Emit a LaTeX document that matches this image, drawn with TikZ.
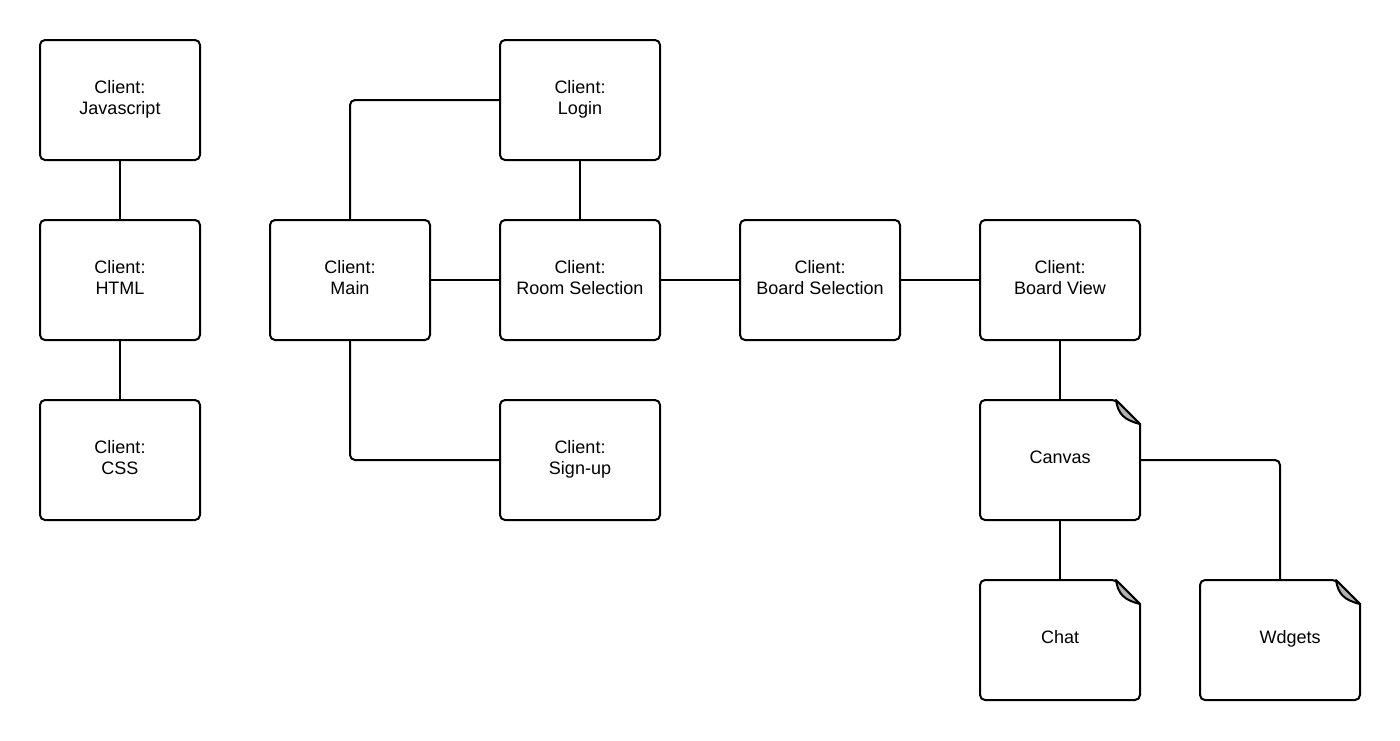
\documentclass[tikz,border=0pt]{standalone}
\usepackage{fontspec}
\setmainfont{Liberation Sans}
\usetikzlibrary{calc}
\newcommand{\twoline}[2]{\raisebox{0.8pt}{\begin{tabular}{@{}c@{}}#1\\#2\end{tabular}}}
\begin{document}
\begin{tikzpicture}[x=0.5pt,y=-0.5pt,
  box/.style={draw=black,line width=1pt,rounded corners=2.5pt,fill=white,minimum width=80pt,minimum height=60pt,inner sep=0pt,align=center,font=\fontsize{9}{10.5}\selectfont},
  link/.style={draw=black,line width=1pt,rounded corners=2.5pt},
  notebody/.style={draw=black,line width=1pt,fill=white},
  notefold/.style={draw=black,line width=1pt,fill=black!30,line join=round},
  notetxt/.style={inner sep=0pt,anchor=base,font=\fontsize{9}{10.5}\selectfont}]
\useasboundingbox (0,0) rectangle (1400,740);
\node[box] (js) at (120,100) {\twoline{Client:}{Javascript}};
\node[box] (html) at (120,280) {\twoline{Client:}{HTML}};
\node[box] (css) at (120,460) {\twoline{Client:}{CSS}};
\node[box] (main) at (350,280) {\twoline{Client:}{Main}};
\node[box] (login) at (580,100) {\twoline{Client:}{Login}};
\node[box] (room) at (580,280) {\twoline{Client:}{Room Selection}};
\node[box] (signup) at (580,460) {\twoline{Client:}{Sign-up}};
\node[box] (bsel) at (820,280) {\twoline{Client:}{Board Selection}};
\node[box] (bview) at (1060,280) {\twoline{Client:}{Board View}};
% note shapes: body node for anchors, outline drawn on top
\newcommand{\notebox}[4]{%
  \node[minimum width=80pt,minimum height=60pt,inner sep=0pt] (#1) at (#2) {};
  \begin{scope}[shift={(#2)}]
    \draw[notebody,rounded corners=2.5pt] (-80,-60) -- (56,-60) [sharp corners]-- (80,-36) [rounded corners=2.5pt]-- (80,60) -- (-80,60) -- cycle;
    \draw[notefold] (56,-60) .. controls (58,-46) and (64,-40) .. (80,-36) -- cycle;
  \end{scope}
  \node[notetxt] (#1-t) at ($(#2)+(#4,3)$) {#3};}
\notebox{canvas}{1060,460}{Canvas}{0}
\notebox{chat}{1060,640}{Chat}{0}
\notebox{wdg}{1280,640}{Wdgets}{10}
% connectors
\draw[link] (js.south) -- (html.north);
\draw[link] (html.south) -- (css.north);
\draw[link] (main.north) |- (login.west);
\draw[link] (main.east) -- (room.west);
\draw[link] (main.south) |- (signup.west);
\draw[link] (login.south) -- (room.north);
\draw[link] (room.east) -- (bsel.west);
\draw[link] (bsel.east) -- (bview.west);
\draw[link] (bview.south) -- (canvas.north);
\draw[link] (canvas.east) -| (wdg.north);
\draw[link] (canvas.south) -- (chat.north);
\end{tikzpicture}
\end{document}
